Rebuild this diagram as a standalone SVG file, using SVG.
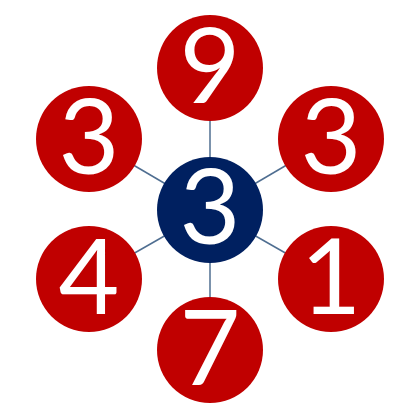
<svg xmlns="http://www.w3.org/2000/svg" width="420" height="420" viewBox="0 0 420 420">
<style>
.out{fill:#C00000}
.mid{fill:#002060}
.d{fill:#fff;font-family:Lato,"Open Sans",sans-serif;font-size:105px;text-anchor:middle}
.c line{stroke:#4F6E91;stroke-width:1.5}
</style>
<rect width="420" height="420" fill="#fff"/>
<g id="connectors" class="c">
<line x1="210" y1="210" x2="210" y2="68"/>
<line x1="210" y1="210" x2="331" y2="139"/>
<line x1="210" y1="210" x2="331" y2="279"/>
<line x1="210" y1="210" x2="210" y2="350"/>
<line x1="210" y1="210" x2="89" y2="279"/>
<line x1="210" y1="210" x2="89" y2="139"/>
</g>
<g id="n-top"><circle class="out" cx="210" cy="68" r="53"/><text class="d" x="210" y="103">9</text></g>
<g id="n-tr"><circle class="out" cx="331" cy="139" r="53"/><text class="d" x="331" y="174">3</text></g>
<g id="n-br"><circle class="out" cx="331" cy="279" r="53"/><text class="d" x="331" y="314">1</text></g>
<g id="n-bot"><circle class="out" cx="210" cy="350" r="53"/><text class="d" x="210" y="385">7</text></g>
<g id="n-bl"><circle class="out" cx="89" cy="279" r="53"/><text class="d" x="89" y="314">4</text></g>
<g id="n-tl"><circle class="out" cx="89" cy="139" r="53"/><text class="d" x="89" y="174">3</text></g>
<g id="n-center"><circle class="mid" cx="210" cy="210" r="53"/><text class="d" x="210" y="244">3</text></g>
</svg>
